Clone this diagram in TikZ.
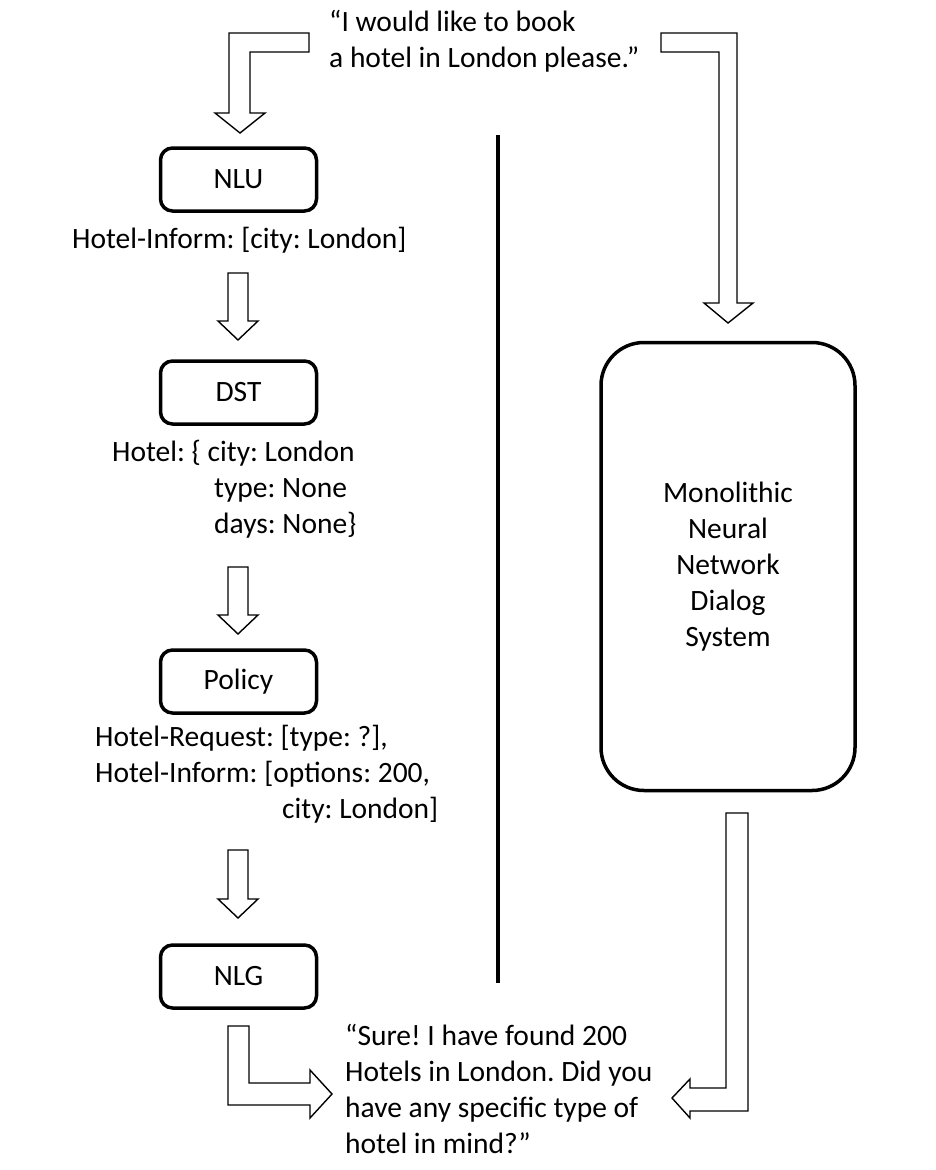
\documentclass[tikz,border=0pt]{standalone}
\usepackage{fontspec}
\setmainfont{Carlito}
\usetikzlibrary{calc}
\frenchspacing

\tikzset{
  module/.style={rectangle, draw, line width=3.5pt, rounded corners=12pt, minimum width=156pt, minimum height=63pt, inner sep=0pt},
  bigarrow/.style={draw, line width=1.4pt, fill=white, line join=miter},
  info/.style={inner sep=0pt, align=left},
}

% hollow block arrow pointing down, from a top centre to a tip
\newcommand{\dnarrow}[2]{%
  \draw[bigarrow] ($(#1)+(-10,0)$) -- ($(#1)+(10,0)$) -- ($(#2)+(10,-19)$) -- ($(#2)+(20,-19)$)
    -- (#2) -- ($(#2)+(-20,-19)$) -- ($(#2)+(-10,-19)$) -- cycle;}

\begin{document}
\begin{tikzpicture}[x=1pt, y=-1pt, font=\fontsize{29.5}{36}\selectfont]
    \useasboundingbox (0,0) rectangle (936,1170);

    % modular pipeline
    \node[module] (NLU) at (238.5,179.5) {NLU};
    \node[module] (DST) at (238.5,392.5) {DST};
    \node[module] (Policy) at (238.5,681.5) {Policy};
    \node[module] (NLG) at (238.5,976.5) {NLG};

    \node[info, anchor=west] (NLUout) at (72,240) {Hotel-Inform: [city: London]};
    \node[info, anchor=west] (DSTout) at (112,489) {Hotel: \{ city: London\\\hspace*{102pt}type: None\\\hspace*{102pt}days: None\}};
    \node[info, anchor=west] (Policyout) at (95,774) {Hotel-Request: [type: ?],\\Hotel-Inform: [options: 200,\\\hspace*{187pt}city: London]};

    \coordinate (a1) at (238,273); \coordinate (a1tip) at (238,340);
    \coordinate (a2) at (238,567); \coordinate (a2tip) at (238,634);
    \coordinate (a3) at (238,850); \coordinate (a3tip) at (238,918);
    \dnarrow{a1}{a1tip}
    \dnarrow{a2}{a2tip}
    \dnarrow{a3}{a3tip}

    % end-to-end system
    \node[module, minimum width=254pt, minimum height=448pt, rounded corners=43pt, align=center] (Mono) at (728,566.5) {Monolithic\\Neural\\Network\\Dialog\\System};

    \coordinate (SepTop) at (498,135);
    \coordinate (SepBot) at (498,983);
    \draw[line width=3.5pt] (SepTop) -- (SepBot);

    % user and system turns
    \node[info, anchor=west] (Request) at (329,41) {“I would like to book\\a hotel in London please.”};
    \node[info, anchor=west] (Reply) at (345,1089) {“Sure! I have found 200\\Hotels in London. Did you\\have any specific type of\\hotel in mind?”};

    \draw[bigarrow] (309,33) -- (229,33) -- (229,113) -- (215,113) -- (240,133) -- (265,113) -- (250,113) -- (250,52) -- (309,52) -- cycle;
    \draw[bigarrow] (661,33) -- (737,33) -- (737,303) -- (753,303) -- (728,323) -- (704,303) -- (719,303) -- (719,52) -- (661,52) -- cycle;
    \draw[bigarrow] (228,1026) -- (249,1026) -- (249,1083) -- (310,1083) -- (310,1070) -- (332,1094) -- (310,1118) -- (310,1105) -- (228,1105) -- cycle;
    \draw[bigarrow] (726,813) -- (748,813) -- (748,1111) -- (690,1111) -- (690,1118) -- (672,1098) -- (690,1079) -- (690,1088) -- (726,1088) -- cycle;
\end{tikzpicture}
\end{document}
